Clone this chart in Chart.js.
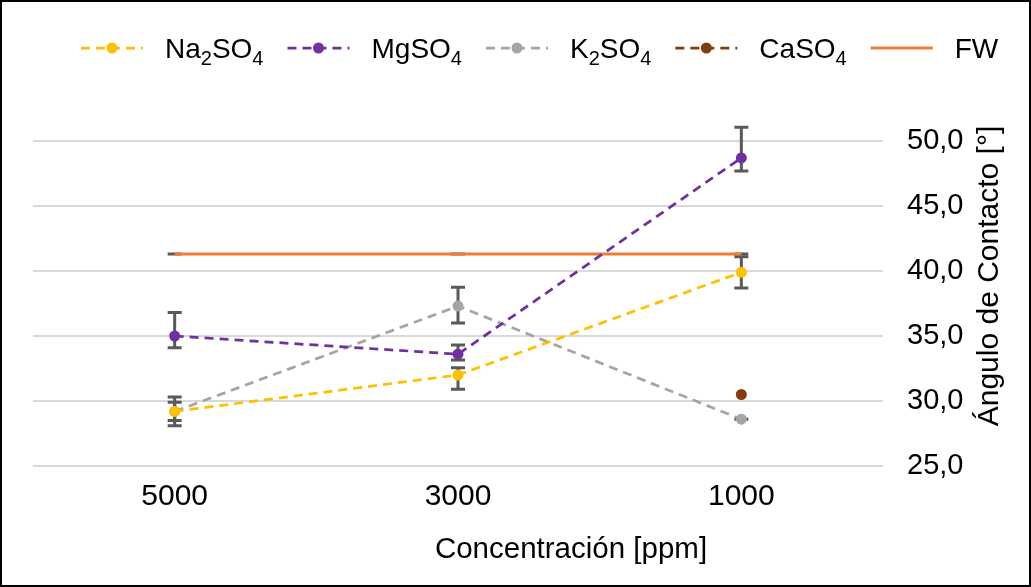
<!DOCTYPE html>
<html>
<head>
<meta charset="utf-8">
<script src="https://cdn.jsdelivr.net/npm/chart.js@4/dist/chart.umd.min.js"></script>
<style>
  body { margin: 0; background: #fff; }
</style>
</head>
<body>
<canvas id="chart" width="1031" height="587"></canvas>
<script>
const concentrations = ['5000', '3000', '1000'];
const y_ticks = [25, 30, 35, 40, 45, 50];

const na2so4 = [29.2, 32.0, 39.9];
const na2so4_err_plus = [0.7, 0.55, 1.2];
const na2so4_err_minus = [0.7, 1.1, 1.2];

const mgso4 = [35.0, 33.6, 48.7];
const mgso4_err_plus = [1.8, 0.7, 2.35];
const mgso4_err_minus = [0.9, 0.45, 1.0];

const k2so4 = [29.2, 37.3, 28.6];
const k2so4_err_plus = [1.1, 1.45, 0];
const k2so4_err_minus = [1.1, 1.3, 0];

const caso4 = [null, null, 30.5];

const fw = [41.3, 41.3, 41.3];
const fw_err = [0, 0, 0];

const font_family = '"Liberation Sans", Arial, sans-serif';
const text_color = '#000000';

const series = (label, data, color, err_plus, err_minus) => ({
    label, data,
    borderColor: color,
    backgroundColor: color,
    borderWidth: 2.75,
    borderDash: [9, 6],
    pointRadius: 5.5,
    pointHoverRadius: 5.5,
    pointBorderWidth: 0,
    err_plus, err_minus,
});

const datasets = [
    series('Na2SO4', na2so4, '#FFC000', na2so4_err_plus, na2so4_err_minus),
    series('MgSO4', mgso4, '#7030A0', mgso4_err_plus, mgso4_err_minus),
    series('K2SO4', k2so4, '#A5A5A5', k2so4_err_plus, k2so4_err_minus),
    series('CaSO4', caso4, '#843C0C', null, null),
    {
        label: 'FW', data: fw,
        borderColor: '#ED7D31', backgroundColor: '#ED7D31',
        borderWidth: 3, pointRadius: 0, pointHoverRadius: 0,
        err_plus: fw_err, err_minus: fw_err,
    },
];

const error_bars = {
    id: 'error_bars',
    beforeDatasetsDraw(chart) {
        const ctx = chart.ctx;
        const y = chart.scales.y;
        ctx.save();
        ctx.strokeStyle = '#595959';
        ctx.lineWidth = 3;
        chart.data.datasets.forEach((ds, i) => {
            if (!ds.err_plus) return;
            const meta = chart.getDatasetMeta(i);
            meta.data.forEach((pt, j) => {
                const v = ds.data[j];
                if (v == null) return;
                const top = y.getPixelForValue(v + ds.err_plus[j]);
                const bottom = y.getPixelForValue(v - ds.err_minus[j]);
                const cap = 7;
                ctx.beginPath();
                ctx.moveTo(pt.x, top);
                ctx.lineTo(pt.x, bottom);
                ctx.moveTo(pt.x - cap, top);
                ctx.lineTo(pt.x + cap, top);
                ctx.moveTo(pt.x - cap, bottom);
                ctx.lineTo(pt.x + cap, bottom);
                ctx.stroke();
            });
        });
        ctx.restore();
    }
};

// legend with subscripts, axis titles, frame
const decorations = {
    id: 'decorations',
    beforeDraw(chart) {
        const ctx = chart.ctx;
        ctx.save();
        ctx.fillStyle = '#ffffff';
        ctx.fillRect(0, 0, chart.width, chart.height);
        ctx.restore();
    },
    afterDraw(chart) {
        const ctx = chart.ctx;
        ctx.save();

        const main_font = `28px ${font_family}`;
        const sub_font = `20px ${font_family}`;
        const base_y = 58;
        let x = 81;
        chart.data.datasets.forEach(ds => {
            const mid_y = 48;
            const line_len = 62;
            ctx.strokeStyle = ds.borderColor;
            ctx.lineWidth = ds.borderWidth;
            ctx.setLineDash(ds.borderDash || []);
            ctx.beginPath();
            ctx.moveTo(x, mid_y);
            ctx.lineTo(x + line_len, mid_y);
            ctx.stroke();
            ctx.setLineDash([]);
            if (ds.pointRadius > 0) {
                ctx.fillStyle = ds.backgroundColor;
                ctx.beginPath();
                ctx.arc(x + line_len / 2, mid_y, ds.pointRadius, 0, Math.PI * 2);
                ctx.fill();
            }
            x += line_len + 22;
            ctx.fillStyle = text_color;
            ctx.textBaseline = 'alphabetic';
            ctx.textAlign = 'left';
            ds.label.split(/(\d+)/).filter(s => s).forEach(part => {
                const is_sub = /^\d+$/.test(part);
                ctx.font = is_sub ? sub_font : main_font;
                ctx.fillText(part, x, is_sub ? base_y + 7 : base_y);
                x += ctx.measureText(part).width;
            });
            x += 24;
        });

        ctx.fillStyle = text_color;
        ctx.textAlign = 'center';
        ctx.textBaseline = 'middle';
        ctx.font = `29.5px ${font_family}`;
        ctx.fillText('Concentración [ppm]', 571, 550);

        ctx.font = `30px ${font_family}`;
        ctx.translate(990, 276);
        ctx.rotate(-Math.PI / 2);
        ctx.fillText('Ángulo de Contacto [°]', 0, 0);
        ctx.setTransform(1, 0, 0, 1, 0, 0);

        ctx.strokeStyle = '#000000';
        ctx.lineWidth = 2;
        ctx.strokeRect(1, 1, chart.width - 2, chart.height - 2);
        ctx.restore();
    }
};

window.addEventListener('load', () => {
    new Chart(document.getElementById('chart'), {
        type: 'line',
        data: { labels: concentrations, datasets },
        options: {
            responsive: false,
            animation: false,
            events: [],
            layout: { padding: { top: 141, left: 33, right: 0, bottom: 0 } },
            plugins: { legend: { display: false }, tooltip: { enabled: false } },
            scales: {
                x: {
                    offset: true,
                    grid: { display: false, drawTicks: false },
                    border: { display: false },
                    ticks: { color: text_color, font: { family: font_family, size: 30 }, padding: 13 },
                    afterFit: (scale) => { scale.height = 121; },
                },
                y: {
                    position: 'right',
                    min: y_ticks[0],
                    max: y_ticks[y_ticks.length - 1],
                    grid: { color: '#D9D9D9', lineWidth: 2, drawTicks: false },
                    border: { display: false },
                    ticks: {
                        stepSize: y_ticks[1] - y_ticks[0],
                        color: text_color,
                        font: { family: font_family, size: 29 },
                        padding: 24,
                        callback: (v) => v.toFixed(1).replace('.', ','),
                    },
                    afterFit: (scale) => { scale.width = 148; },
                },
            },
        },
        plugins: [error_bars, decorations],
    });
});
</script>
</body>
</html>
